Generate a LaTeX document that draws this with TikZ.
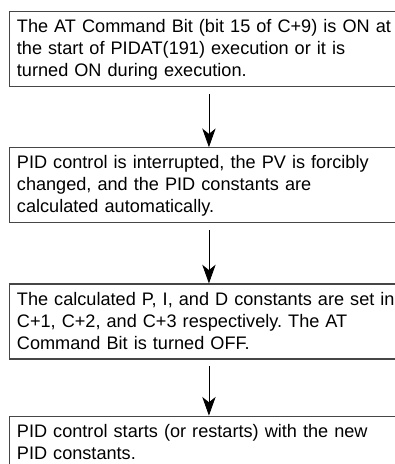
\documentclass[tikz,border=0pt]{standalone}
\usepackage{fontspec}
\setmainfont{Liberation Sans}
\usepackage{tikz}
\usetikzlibrary{arrows.meta,positioning}
\definecolor{frameline}{RGB}{70,70,70}

\begin{document}
\frenchspacing
\begin{tikzpicture}[
      node distance=45pt,
      box/.style={rectangle, draw=frameline, line width=0.9pt, align=left,
                  text width=288pt, inner xsep=5.5pt, inner ysep=0pt,
                  text height=15.75pt, text depth=40.5pt,
                  font=\fontsize{13.6pt}{16.5pt}\selectfont},
      arr/.style={-{Stealth[length=14pt, width=10pt, inset=4pt]}, line width=0.6pt,
                  shorten <=5pt}]
    \clip (0,0) rectangle (296.25pt,-348pt);
    \useasboundingbox (0,0) rectangle (296.25pt,-348pt);
    \node[box, anchor=north west] (b1) at (6.75pt,-8.25pt)
      {The AT Command Bit (bit 15 of C+9) is ON at\\ the start of PIDAT(191) execution or it is\\ turned ON during execution.};
    \node[box, below=of b1] (b2)
      {PID control is interrupted, the PV is forcibly\\ changed, and the PID constants are\\ calculated automatically.};
    \node[box, below=of b2] (b3)
      {The calculated P, I, and D constants are set in\\ C+1, C+2, and C+3 respectively. The AT\\ Command Bit is turned OFF.};
    \node[box, below=42pt of b3, text depth=70pt] (b4)
      {PID control starts (or restarts) with the new\\ PID constants.};
    \draw[arr] (b1) -- (b2);
    \draw[arr] (b2) -- (b3);
    \draw[arr] (b3) -- (b4);
  \end{tikzpicture}
\end{document}
